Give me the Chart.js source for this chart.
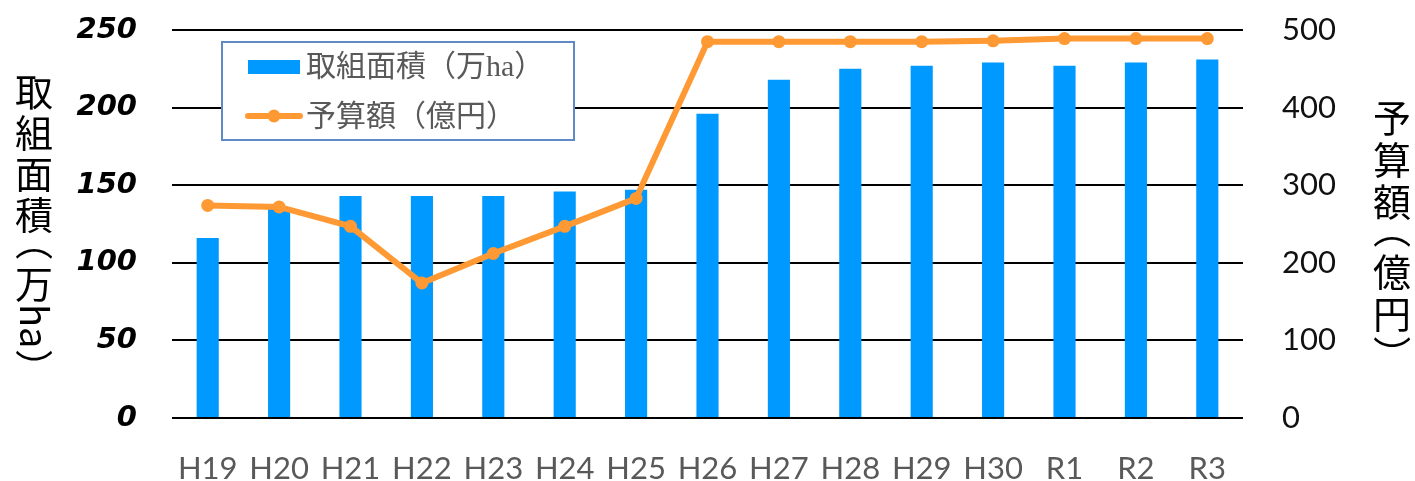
<!DOCTYPE html>
<html>
<head>
<meta charset="utf-8">
<script src="https://cdn.jsdelivr.net/npm/chart.js@4/dist/chart.umd.min.js"></script>
<style>
  html, body { margin: 0; padding: 0; background: #fff; }
  #wrap { width: 1415px; height: 481px; }
</style>
</head>
<body>
<div id="wrap"><canvas id="c" width="1415" height="481"></canvas></div>
<script>
const categories = ['H19','H20','H21','H22','H23','H24','H25','H26','H27','H28','H29','H30','R1','R2','R3'];
const areaValues = [116,135,143,143,143,146,147,196,218,225,227,229,227,229,231];
const budgetValues = [274,272,247,174,212,247,283,485,485,485,485,486,489,489,489];
const areaLabel = '取組面積（万ha）';
const budgetLabel = '予算額（億円）';
const leftTitle = '取組面積（万ha）';
const rightTitle = '予算額（億円）';

const BAR_COLOR = '#0099FF';
const LINE_COLOR = '#FF9933';
const CJK = '"Noto Sans CJK JP", "Noto Sans", sans-serif';

function drawVertical(ctx, text, cx, top, fs, pitch) {
  ctx.save();
  ctx.fillStyle = '#000';
  ctx.font = fs + 'px ' + CJK;
  ctx.textBaseline = 'middle';
  let cur = top;
  const chars = Array.from(text);
  let i = 0;
  while (i < chars.length) {
    const ch = chars[i];
    if (ch === '（') {
      ctx.save();
      ctx.translate(cx, cur + 16 - 0.25 * fs);
      ctx.rotate(Math.PI / 2);
      ctx.textAlign = 'center';
      ctx.fillText(ch, 0, 0);
      ctx.restore();
      cur += 28; i++;
    } else if (ch === '）') {
      ctx.save();
      ctx.translate(cx, cur + 10 + 0.25 * fs);
      ctx.rotate(Math.PI / 2);
      ctx.textAlign = 'center';
      ctx.fillText(ch, 0, 0);
      ctx.restore();
      cur += 22; i++;
    } else if (/[A-Za-z0-9]/.test(ch)) {
      let run = '';
      while (i < chars.length && /[A-Za-z0-9]/.test(chars[i])) { run += chars[i]; i++; }
      const w = ctx.measureText(run).width;
      ctx.save();
      ctx.translate(cx, cur);
      ctx.rotate(Math.PI / 2);
      ctx.textAlign = 'left';
      ctx.fillText(run, 0, 0);
      ctx.restore();
      cur += w;
    } else {
      ctx.textAlign = 'center';
      ctx.fillText(ch, cx, cur + pitch / 2);
      cur += pitch; i++;
    }
  }
  ctx.restore();
}

const decorPlugin = {
  id: 'decor',
  afterDraw(chart) {
    const ctx = chart.ctx;
    drawVertical(ctx, leftTitle, 34, 71, 38, 41);
    drawVertical(ctx, rightTitle, 1392, 97, 38, 42);
    ctx.save();
    ctx.fillStyle = '#fff';
    ctx.fillRect(222, 42, 352, 98);
    ctx.strokeStyle = '#5F8AC6';
    ctx.lineWidth = 2;
    ctx.strokeRect(222, 42, 352, 98);
    ctx.fillStyle = BAR_COLOR;
    ctx.fillRect(248, 60, 52, 14);
    ctx.strokeStyle = LINE_COLOR;
    ctx.lineWidth = 6;
    ctx.lineCap = 'round';
    ctx.beginPath();
    ctx.moveTo(248, 116);
    ctx.lineTo(300, 116);
    ctx.stroke();
    ctx.fillStyle = LINE_COLOR;
    ctx.beginPath();
    ctx.arc(274, 116, 6.5, 0, Math.PI * 2);
    ctx.fill();
    ctx.fillStyle = '#595959';
    ctx.font = '30px "Liberation Serif", ' + CJK;
    ctx.textBaseline = 'middle';
    ctx.textAlign = 'left';
    ctx.fillText(chart.data.datasets[0].label, 306, 68);
    ctx.fillText(chart.data.datasets[1].label, 306, 118);
    ctx.restore();
  }
};

function fitV(s) { s.width = 172; s.paddingTop = 0; s.paddingBottom = 0; }

new Chart(document.getElementById('c'), {
  data: {
    labels: categories,
    datasets: [
      {
        type: 'bar',
        label: areaLabel,
        data: areaValues,
        backgroundColor: BAR_COLOR,
        yAxisID: 'y',
        order: 1,
        barPercentage: 0.31,
        categoryPercentage: 1
      },
      {
        type: 'line',
        label: budgetLabel,
        data: budgetValues,
        borderColor: LINE_COLOR,
        backgroundColor: LINE_COLOR,
        borderWidth: 6,
        pointRadius: 6.5,
        pointBorderWidth: 0,
        pointBackgroundColor: LINE_COLOR,
        tension: 0,
        yAxisID: 'y1',
        order: 0
      }
    ]
  },
  options: {
    responsive: false,
    animation: false,
    layout: { padding: { top: 30, left: 0, right: 0, bottom: 0 } },
    plugins: { legend: { display: false }, tooltip: { enabled: false } },
    scales: {
      x: {
        grid: { display: false, drawTicks: false },
        border: { display: false },
        ticks: { color: '#595959', font: { family: 'Lato', size: 31 }, padding: 32, maxRotation: 0, autoSkip: false },
        afterFit(s) { s.height = 63; s.paddingLeft = 0; s.paddingRight = 0; }
      },
      y: {
        position: 'left',
        min: 0, max: 250,
        ticks: { stepSize: 50, color: '#000', font: { family: '"DejaVu Sans"', size: 29, weight: 'bold', style: 'italic' }, padding: 35 },
        grid: { color: '#000', lineWidth: 2, drawTicks: false },
        border: { display: false },
        afterFit: fitV
      },
      y1: {
        position: 'right',
        min: 0, max: 500,
        ticks: { stepSize: 100, color: '#111', font: { family: 'Lato', size: 31 }, padding: 39 },
        grid: { display: false, drawTicks: false },
        border: { display: false },
        afterFit: fitV
      }
    }
  },
  plugins: [decorPlugin]
});
</script>
</body>
</html>
